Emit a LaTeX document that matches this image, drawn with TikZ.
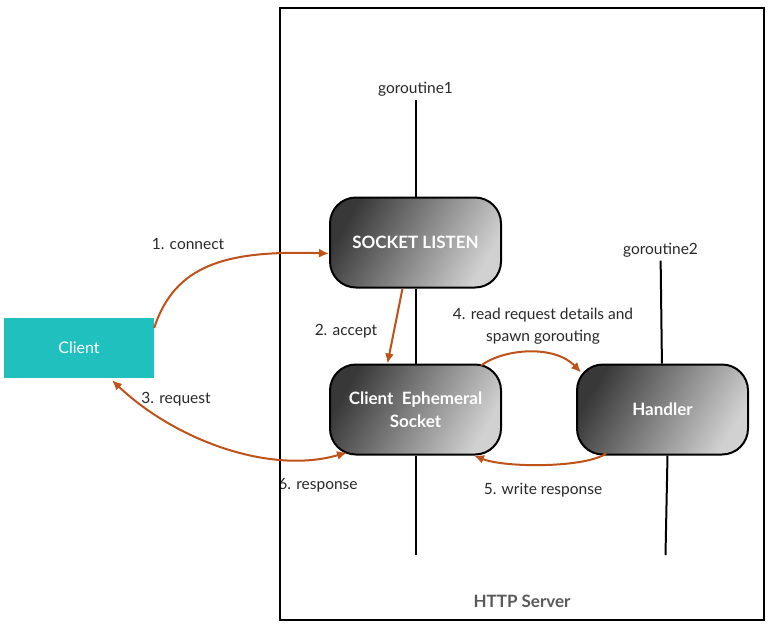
\documentclass[tikz,border=0pt]{standalone}
\usepackage{fontspec}
\setmainfont{Lato}
\usetikzlibrary{positioning,arrows.meta,calc}
\definecolor{flowc}{RGB}{190,82,24}
\definecolor{clientc}{RGB}{32,192,190}
\definecolor{txt}{RGB}{40,40,40}

\begin{document}
\begin{tikzpicture}[x=1pt,y=-1pt,
    proc/.style={draw,line width=2pt,rounded corners=26pt,minimum width=171pt,minimum height=90pt,
        top color=black!78,bottom color=black!18,shading angle=60,text=white,align=center,
        font=\bfseries\fontsize{17}{23}\selectfont},
    flow/.style={line width=2pt,draw=flowc,>={Latex[length=10pt,width=9pt]}},
    lbl/.style={text=txt,align=center,font=\fontsize{15.5}{22}\selectfont}]
    \useasboundingbox (0,0) rectangle (771,625);
    % labels under the frame
    \node[lbl] (l6) at (318,485) {6. response};
    \node[draw,line width=2.4pt,minimum width=484pt,minimum height=612pt] (server) at (522,314) {};
    \node[font=\bfseries\fontsize{17}{20}\selectfont,text=black!65] (srvname) at (522,601) {HTTP Server};
    \node[fill=clientc,minimum width=150pt,minimum height=60pt,text=white,font=\fontsize{16}{19}\selectfont]
        (client) at (79,348) {Client};
    \node[proc] (listen) at (415.5,242.5) {SOCKET LISTEN};
    \node[proc,below=75pt of listen] (eph) {Client\enspace Ephemeral\\Socket};
    \node[proc,right=74pt of eph] (handler) {Handler};
    % goroutines
    \node[lbl] (g1) at (415.5,89) {goroutine1};
    \node[lbl] (g2) at (660.5,250) {goroutine2};
    \coordinate (g1end) at (415.5,555);
    \coordinate (g2end) at (665.5,555);
    \draw[line width=2pt] (g1) -- (listen);
    \draw[line width=2pt] (listen) -- (eph);
    \draw[line width=2pt] (eph) -- (g1end);
    \draw[line width=2pt] (g2) -- (handler);
    \draw[line width=2pt] ($(handler.south)+(5,0)$) -- (g2end);
    % steps
    \draw[flow,->] ($(client.north east)+(0,10)$) .. controls (175,265) and (225,250) .. ($(listen.west)+(0,11)$);
    \node[lbl] (l1) at (188,244) {1. connect};
    \draw[flow,->] ($(listen.south)+(-13,0)$) -- ($(eph.north)+(-28,0)$);
    \node[lbl] (l2) at (346,331) {2. accept};
    \draw[flow,<->] ($(client.south)+(33,2)$) .. controls (175,440) and (270,475) .. ($(eph.south west)+(18,-3)$);
    \node[lbl] (l3) at (176,399) {3. request};
    \draw[flow,->] ($(eph.north east)+(-21,2)$) .. controls (505,348) and (555,345) .. ($(handler.north west)+(5,9)$);
    \node[lbl] (l4) at (543,326) {4. read request details and\\spawn gorouting};
    \draw[flow,->] ($(handler.south west)+(30,-2)$) .. controls (585,468) and (505,468) .. ($(eph.south east)+(-28,0)$);
    \node[lbl] (l5) at (543,490) {5. write response};
\end{tikzpicture}
\end{document}
